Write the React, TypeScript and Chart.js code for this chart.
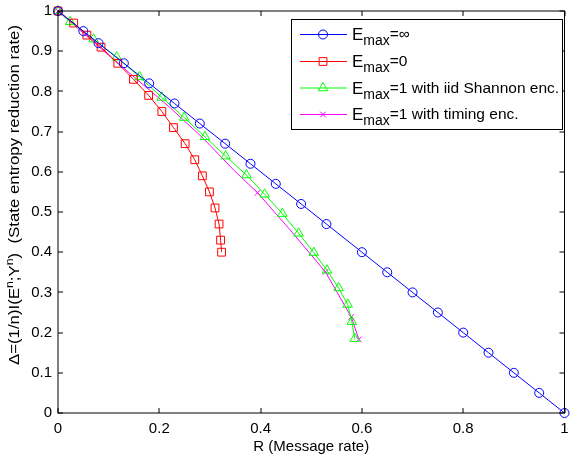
import React, { useEffect, useRef } from 'react';
import { Chart, registerables } from 'chart.js';

Chart.register(...registerables);

// ---- data ----
const xTickValues = [0, 0.2, 0.4, 0.6, 0.8, 1];
const xTickLabels = ['0', '0.2', '0.4', '0.6', '0.8', '1'];
const yTickValues = [0, 0.1, 0.2, 0.3, 0.4, 0.5, 0.6, 0.7, 0.8, 0.9, 1];
const yTickLabels = ['0', '0.1', '0.2', '0.3', '0.4', '0.5', '0.6', '0.7', '0.8', '0.9', '1'];

const infX = [0, 0.05, 0.08, 0.13, 0.18, 0.23, 0.28, 0.33, 0.38, 0.43, 0.48, 0.53, 0.6, 0.65, 0.7, 0.75, 0.8, 0.85, 0.9, 0.95, 1.0];
const infY = [1, 0.95, 0.92, 0.87, 0.82, 0.77, 0.72, 0.67, 0.62, 0.57, 0.52, 0.47, 0.4, 0.35, 0.3, 0.25, 0.2, 0.15, 0.1, 0.05, 0];

const zeroX = [0, 0.031, 0.057, 0.085, 0.118, 0.149, 0.179, 0.205, 0.228, 0.251, 0.27, 0.285, 0.299, 0.31, 0.318, 0.321, 0.323];
const zeroY = [1, 0.97, 0.94, 0.91, 0.87, 0.83, 0.79, 0.75, 0.71, 0.67, 0.63, 0.59, 0.55, 0.51, 0.47, 0.43, 0.4];

const iidX = [0, 0.024, 0.07, 0.116, 0.161, 0.205, 0.249, 0.29, 0.331, 0.372, 0.408, 0.443, 0.475, 0.505, 0.531, 0.554, 0.572, 0.58, 0.586];
const iidY = [1, 0.973, 0.93, 0.885, 0.836, 0.785, 0.735, 0.687, 0.639, 0.592, 0.544, 0.496, 0.447, 0.399, 0.355, 0.311, 0.27, 0.227, 0.185];

const timingX = [0, 0.1, 0.22, 0.287, 0.348, 0.394, 0.462, 0.528, 0.579, 0.594];
const timingY = [1, 0.89, 0.761, 0.683, 0.603, 0.548, 0.45, 0.351, 0.239, 0.183];
const timingMarked = [1, 0, 0, 0, 0, 1, 0, 1, 1, 1];

const legendLabels = ['=\u221E', '=0', '=1 with iid Shannon enc.', '=1 with timing enc.'];

const FONT = '"Liberation Sans", Arial, Helvetica, sans-serif';
const BLUE = '#0000ff';
const RED = '#ff0000';
const GREEN = '#00ff00';
const MAGENTA = '#ff00ff';

function pts(xs: number[], ys: number[]) {
  return xs.map((x, i) => ({ x, y: ys[i] }));
}

function drawMarker(ctx: CanvasRenderingContext2D, style: string, x: number, y: number, r: number, color: string) {
  ctx.save();
  ctx.strokeStyle = color;
  ctx.lineWidth = 1;
  ctx.beginPath();
  if (style === 'circle') {
    ctx.arc(x, y, r, 0, Math.PI * 2);
  } else if (style === 'rect') {
    const s = r * Math.SQRT1_2;
    ctx.rect(x - s, y - s, 2 * s, 2 * s);
  } else if (style === 'triangle') {
    for (let k = 0; k < 3; k++) {
      const a = (k * 2 * Math.PI) / 3;
      const px = x + Math.sin(a) * r;
      const py = y - Math.cos(a) * r;
      if (k === 0) ctx.moveTo(px, py);
      else ctx.lineTo(px, py);
    }
    ctx.closePath();
  } else if (style === 'crossRot') {
    const o = r * Math.SQRT1_2;
    ctx.moveTo(x - o, y - o);
    ctx.lineTo(x + o, y + o);
    ctx.moveTo(x - o, y + o);
    ctx.lineTo(x + o, y - o);
  }
  ctx.stroke();
  ctx.restore();
}

const legendItems = [
  { color: BLUE, style: 'circle', r: 4.5 },
  { color: RED, style: 'rect', r: 5.5 },
  { color: GREEN, style: 'triangle', r: 5.5 },
  { color: MAGENTA, style: 'crossRot', r: 4 },
];

const framePlugin = {
  id: 'frame',
  afterDatasetsDraw(chart: any) {
    const { ctx, chartArea, scales } = chart;
    const { left, right, top, bottom } = chartArea;
    ctx.save();
    ctx.strokeStyle = '#000';
    ctx.lineWidth = 1;
    ctx.strokeRect(left, top, right - left, bottom - top);
    const tl = 5;
    ctx.beginPath();
    xTickValues.forEach((v) => {
      const px = Math.round(scales.x.getPixelForValue(v));
      ctx.moveTo(px, bottom);
      ctx.lineTo(px, bottom - tl);
      ctx.moveTo(px, top);
      ctx.lineTo(px, top + tl);
    });
    yTickValues.forEach((v) => {
      const py = Math.round(scales.y.getPixelForValue(v));
      ctx.moveTo(left, py);
      ctx.lineTo(left + tl, py);
      ctx.moveTo(right, py);
      ctx.lineTo(right - tl, py);
    });
    ctx.stroke();

    // y axis title with superscripts
    ctx.save();
    ctx.translate(15, 195);
    ctx.rotate(-Math.PI / 2);
    ctx.scale(1.12, 1);
    ctx.fillStyle = '#000';
    ctx.textBaseline = 'middle';
    const big = `15px ${FONT}`;
    const small = `11px ${FONT}`;
    const parts = [
      { t: '\u0394=(1/n)I(E', sup: false },
      { t: 'n', sup: true },
      { t: ';Y', sup: false },
      { t: 'n', sup: true },
      { t: ')  (State entropy reduction rate)', sup: false },
    ];
    let total = 0;
    parts.forEach((p) => {
      ctx.font = p.sup ? small : big;
      total += ctx.measureText(p.t).width;
    });
    let cx = -total / 2;
    parts.forEach((p) => {
      ctx.font = p.sup ? small : big;
      ctx.fillText(p.t, cx, p.sup ? -5 : 0);
      cx += ctx.measureText(p.t).width;
    });
    ctx.restore();

    // legend
    const bx = 291, by = 19, bw = 271, bh = 110;
    ctx.fillStyle = '#fff';
    ctx.fillRect(bx, by, bw, bh);
    ctx.strokeStyle = '#000';
    ctx.lineWidth = 1;
    ctx.strokeRect(bx + 0.5, by + 0.5, bw, bh);
    const rowY = [34, 61, 87.5, 114];
    legendItems.forEach((it, i) => {
      const y = rowY[i];
      ctx.strokeStyle = it.color;
      ctx.lineWidth = 1;
      ctx.beginPath();
      ctx.moveTo(300, y + 0.5);
      ctx.lineTo(347, y + 0.5);
      ctx.stroke();
      drawMarker(ctx, it.style, 323, y + 0.5, it.r, it.color);
      ctx.fillStyle = '#000';
      ctx.textBaseline = 'alphabetic';
      let tx = 352;
      ctx.font = `17px ${FONT}`;
      ctx.fillText('E', tx, y + 6);
      tx += ctx.measureText('E').width;
      ctx.font = `14px ${FONT}`;
      ctx.fillText('max', tx, y + 11);
      tx += ctx.measureText('max').width;
      ctx.font = `15.5px ${FONT}`;
      ctx.fillText(legendLabels[i], tx, y + 5);
    });
    ctx.restore();
  },
};

export default function App() {
  const ref = useRef<HTMLCanvasElement | null>(null);
  useEffect(() => {
    if (!ref.current) return;
    const chart = new Chart(ref.current, {
      type: 'scatter',
      data: {
        datasets: [
          {
            label: 'inf',
            data: pts(infX, infY),
            showLine: true,
            clip: false,
            borderColor: BLUE,
            borderWidth: 1,
            pointStyle: 'circle',
            pointRadius: 4.5,
            pointBorderColor: BLUE,
            pointBackgroundColor: 'rgba(0,0,0,0)',
            pointBorderWidth: 1,
          },
          {
            label: 'zero',
            data: pts(zeroX, zeroY),
            showLine: true,
            clip: false,
            borderColor: RED,
            borderWidth: 1,
            pointStyle: 'rect',
            pointRadius: 5.5,
            pointBorderColor: RED,
            pointBackgroundColor: 'rgba(0,0,0,0)',
            pointBorderWidth: 1,
          },
          {
            label: 'iid',
            data: pts(iidX, iidY),
            showLine: true,
            clip: false,
            borderColor: GREEN,
            borderWidth: 1,
            pointStyle: 'triangle',
            pointRadius: 5.5,
            pointBorderColor: GREEN,
            pointBackgroundColor: 'rgba(0,0,0,0)',
            pointBorderWidth: 1,
          },
          {
            label: 'timing',
            data: pts(timingX, timingY),
            showLine: true,
            clip: false,
            borderColor: MAGENTA,
            borderWidth: 1,
            pointStyle: 'crossRot',
            pointRadius: timingMarked.map((m) => (m ? 4 : 0)),
            pointBorderColor: MAGENTA,
            pointBorderWidth: 1,
          },
        ],
      },
      options: {
        animation: false,
        responsive: false,
        layout: { padding: { top: 11, right: 4, left: 0, bottom: 0 } },
        plugins: { legend: { display: false }, tooltip: { enabled: false } },
        scales: {
          x: {
            type: 'linear',
            min: 0,
            max: 1,
            grid: { display: false, drawTicks: false },
            border: { display: false },
            afterBuildTicks: (s: any) => {
              s.ticks = xTickValues.map((v) => ({ value: v }));
            },
            afterFit: (s: any) => {
              s.height = 43;
              s.paddingLeft = 0;
              s.paddingRight = 0;
            },
            ticks: {
              padding: 7,
              color: '#000',
              font: { family: FONT, size: 15 },
              maxRotation: 0,
              callback: (v: any) => {
                const i = xTickValues.findIndex((t) => Math.abs(t - v) < 1e-9);
                return i >= 0 ? xTickLabels[i] : '';
              },
            },
            title: {
              display: true,
              text: 'R (Message rate)',
              color: '#000',
              font: { family: FONT, size: 15 },
              padding: { top: 0, bottom: 0 },
            },
          },
          y: {
            type: 'linear',
            min: 0,
            max: 1,
            grid: { display: false, drawTicks: false },
            border: { display: false },
            afterBuildTicks: (s: any) => {
              s.ticks = yTickValues.map((v) => ({ value: v }));
            },
            afterFit: (s: any) => {
              s.width = 58;
              s.paddingTop = 0;
              s.paddingBottom = 0;
            },
            ticks: {
              padding: 6,
              color: '#000',
              font: { family: FONT, size: 15 },
              callback: (v: any) => {
                const i = yTickValues.findIndex((t) => Math.abs(t - v) < 1e-9);
                return i >= 0 ? yTickLabels[i] : '';
              },
            },
          },
        },
      },
      plugins: [framePlugin],
    } as any);
    return () => chart.destroy();
  }, []);
  return (
    <div style={{ position: 'absolute', left: 0, top: 0, width: 571, height: 456, background: '#fff' }}>
      <canvas ref={ref} width={571} height={456} style={{ display: 'block' }} />
    </div>
  );
}
